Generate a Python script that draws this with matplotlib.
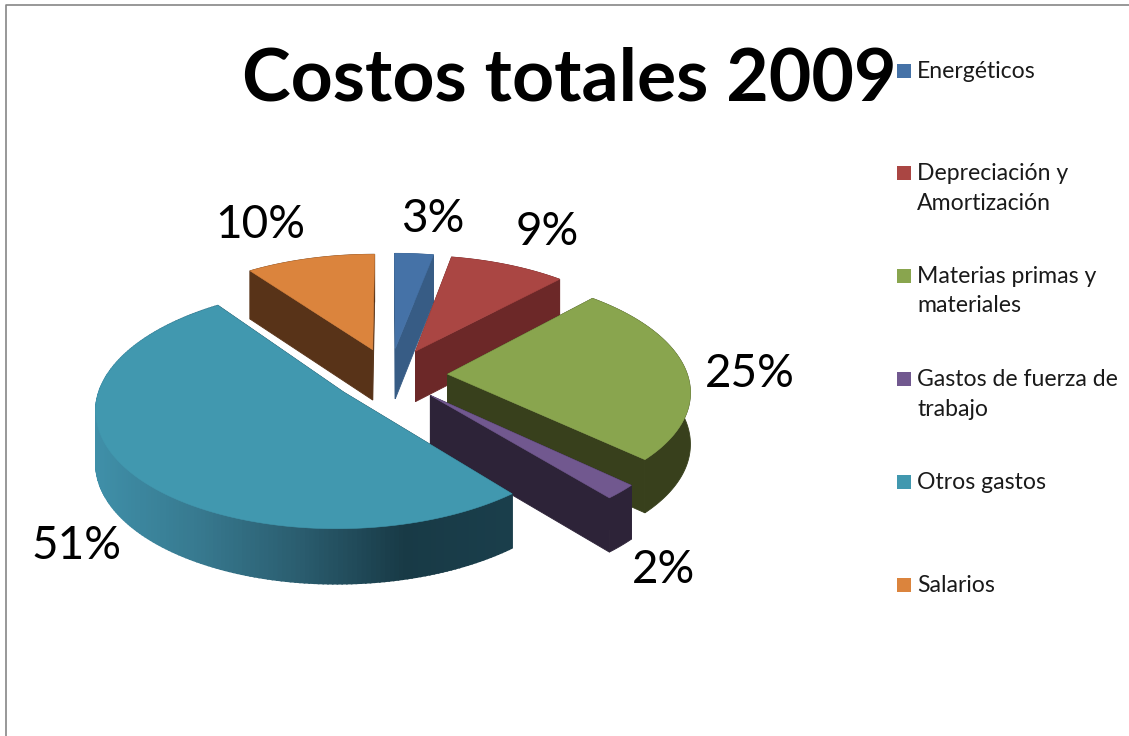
import numpy as np
import matplotlib
matplotlib.use("Agg")
import matplotlib.pyplot as plt
from matplotlib.colors import LinearSegmentedColormap

# Data
categories = ["Energéticos", "Depreciación y\nAmortización", "Materias primas y\nmateriales",
              "Gastos de fuerza de\ntrabajo", "Otros gastos", "Salarios"]
values = [3, 9, 25, 2, 51, 10]

# Colours
top_colors = ["#4572A7", "#AA4643", "#89A54E", "#71588F", "#4198AF", "#DB843D"]
wall_colors = ["#375C85", "#6C2828", "#38401C", "#2D2338", "#1A3E4B", "#583318"]
teal_side = LinearSegmentedColormap.from_list(
    "teal_side", ["#3F8FA8", "#37798F", "#2A5C6E", "#183A46", "#1A3E4B"])

# Layout of the pie, in pixels
CX, CY = 390, 375
RX, RY = 240, 114
PERSP = 0.13
EXPLODE = 0.24

plt.rcParams["font.family"] = ["Lato", "DejaVu Sans"]
fig = plt.figure(figsize=(11.29, 7.36), dpi=100)
ax = fig.add_axes([0, 0, 1, 1])
ax.set_xlim(0, 1129)
ax.set_ylim(736, 0)
ax.axis("off")


def project(x, y):
    w = 1 + PERSP * y
    return CX + RX * x / w, CY - RY * y / w


def depth(py):
    # nearer parts of the pie look a bit thicker
    return 51 + 3 * (py - CY) / 114


def wall(pts, color, lw=0.6):
    pts = np.asarray(pts)
    xs = np.r_[pts[:, 0], pts[::-1, 0]]
    ys = np.r_[pts[:, 1], pts[::-1, 1] + depth(pts[::-1, 1])]
    ax.fill(xs, ys, color=color, lw=lw)


# Wedges, clockwise from 12 o'clock, back to front
edges = np.cumsum([0] + values) / sum(values) * 2 * np.pi
for i, color in enumerate(top_colors):
    a0, a1 = edges[i], edges[i + 1]
    mid = (a0 + a1) / 2
    ex, ey = EXPLODE * np.sin(mid), EXPLODE * np.cos(mid)
    t = np.linspace(a0, a1, max(int((a1 - a0) * 60), 4))
    arc = np.array(project(ex + np.sin(t), ey + np.cos(t))).T
    tip = project(ex, ey)

    wall([tip, arc[0]], wall_colors[i])
    wall([tip, arc[-1]], wall_colors[i])
    if categories[i] == "Otros gastos":
        for j in range(len(arc) - 1):
            wall(arc[j:j + 2], teal_side((arc[j][0] - 97) / (510 - 97)), lw=1.2)
    else:
        wall(arc, wall_colors[i])
    ax.fill([tip[0]] + list(arc[:, 0]), [tip[1]] + list(arc[:, 1]), color=color, lw=0.4)

# Percent labels
label_pos = [(433, 219), (547, 232), (750, 374), (663, 570), (76, 546), (260, 225)]
for v, (x, y) in zip(values, label_pos):
    ax.text(x, y, f"{v}%", fontsize=33, ha="center", va="center", color="black")

# Title
ax.text(569, 80, "Costos totales 2009", fontsize=52.8, fontweight="bold", ha="center", va="center")

# Legend
legend_y = [71, 173, 276, 379, 482, 585]
for name, color, y in zip(categories, top_colors, legend_y):
    ax.fill([897, 911, 911, 897], [y - 7, y - 7, y + 7, y + 7], color=color, lw=0)
    ax.text(917, y - 10, name, fontsize=16.6, va="top", ha="left", color="#1a1a1a", linespacing=1.5)

# The second line of this entry is cut off in the original
ax.fill([910, 1129, 1129, 910], [315, 315, 325, 325], color="white", lw=0, zorder=5)

# Frame of the pasted chart, and a stray letter above it
ax.plot([1129, 6, 6], [5, 5, 736], color="#868686", lw=1.2)
ax.text(947, -8, "p", fontsize=14, ha="center", va="center", color="black")

fig.savefig("out.png", dpi=100)
